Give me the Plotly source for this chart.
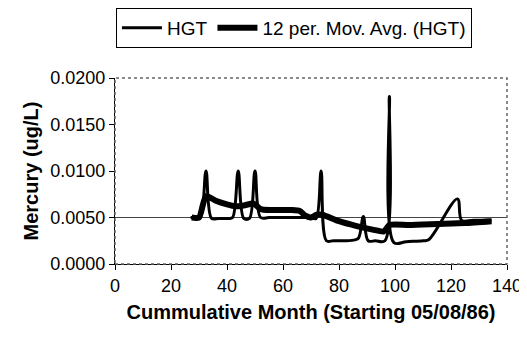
import plotly.graph_objects as go

# HGT monitoring data
hgt_month = [27, 29, 30.5, 32.5, 34.5, 37, 40.5, 42, 44, 46, 48, 50, 52, 55, 60, 65, 70,
             71.8, 73.6, 75.5, 78, 82, 85.7, 87, 88.7, 90.4, 93, 96.4, 98, 99.6, 104,
             110, 112, 122.3, 123.8, 128, 134.5]
hgt_value = [0.0050, 0.0050, 0.0050, 0.0100, 0.0049, 0.0049, 0.0049, 0.0050, 0.0100, 0.0049,
             0.0049, 0.0100, 0.0050, 0.0050, 0.0050, 0.0050, 0.0050,
             0.0049, 0.0100, 0.0025, 0.0025, 0.0025, 0.0026, 0.0028, 0.0051, 0.0025, 0.0025,
             0.0025, 0.0180, 0.0023, 0.0024, 0.0025, 0.0026, 0.0070, 0.0047, 0.0047, 0.0047]

# 12 period moving average
avg_month = [27.4, 30, 32.5, 36, 40, 43, 46, 49.5, 52, 56, 63, 66, 68, 70, 72, 74, 80, 86,
             92, 96, 98, 105, 115, 125, 134.5]
avg_value = [0.0050, 0.0050, 0.0073, 0.0068, 0.0064, 0.0062, 0.0063, 0.0065, 0.0059, 0.0058,
             0.0058, 0.0057, 0.0052, 0.0050, 0.0053, 0.0053, 0.0046, 0.0041,
             0.0037, 0.0035, 0.0042, 0.0042, 0.0043, 0.0044, 0.0046]

reference_level = 0.005

font_name = "Liberation Sans, Arial, sans-serif"

fig = go.Figure()
fig.add_trace(go.Scatter(x=hgt_month, y=hgt_value, name="HGT", mode="lines",
                         line=dict(color="black", width=3, shape="spline", smoothing=1.0)))
fig.add_trace(go.Scatter(x=avg_month, y=avg_value, name="12 per. Mov. Avg. (HGT)", mode="lines",
                         line=dict(color="black", width=6, shape="spline", smoothing=0.6)))

fig.add_hline(y=reference_level, line=dict(color="#444444", width=1), layer="below")

# dotted plot frame
fig.add_shape(type="rect", xref="paper", yref="paper", x0=0, x1=1, y0=0, y1=1,
              line=dict(color="#666666", width=1.5, dash="dot"))

# page body has an 8px default margin, so the figure is a bit smaller than the window
fig.update_layout(
    width=519, height=337,
    margin=dict(l=107, r=20, t=70, b=81),
    paper_bgcolor="white", plot_bgcolor="white",
    font=dict(family=font_name, size=18, color="black"),
    showlegend=True,
    legend=dict(orientation="h", xref="container", yref="container",
                x=0.208, y=1.0, xanchor="left", yanchor="top",
                bordercolor="black", borderwidth=1, font=dict(size=19),
                tracegroupgap=0, itemwidth=40),
    xaxis=dict(range=[0, 140], dtick=20, ticks="outside", ticklen=5, tickcolor="black",
               showgrid=False, zeroline=False, showline=True, linecolor="black",
               automargin=False,
               title=dict(text="<b>Cummulative Month (Starting 05/08/86)</b>",
                          font=dict(size=20), standoff=10)),
    yaxis=dict(range=[0, 0.02], dtick=0.005, tickformat=".4f", ticks="outside", ticklen=5,
               tickcolor="black", showgrid=False, zeroline=False, showline=True,
               linecolor="black", automargin=False,
               title=dict(text="<b>Mercury (ug/L)</b>", font=dict(size=20), standoff=6)),
)

fig.write_html("out.html")
